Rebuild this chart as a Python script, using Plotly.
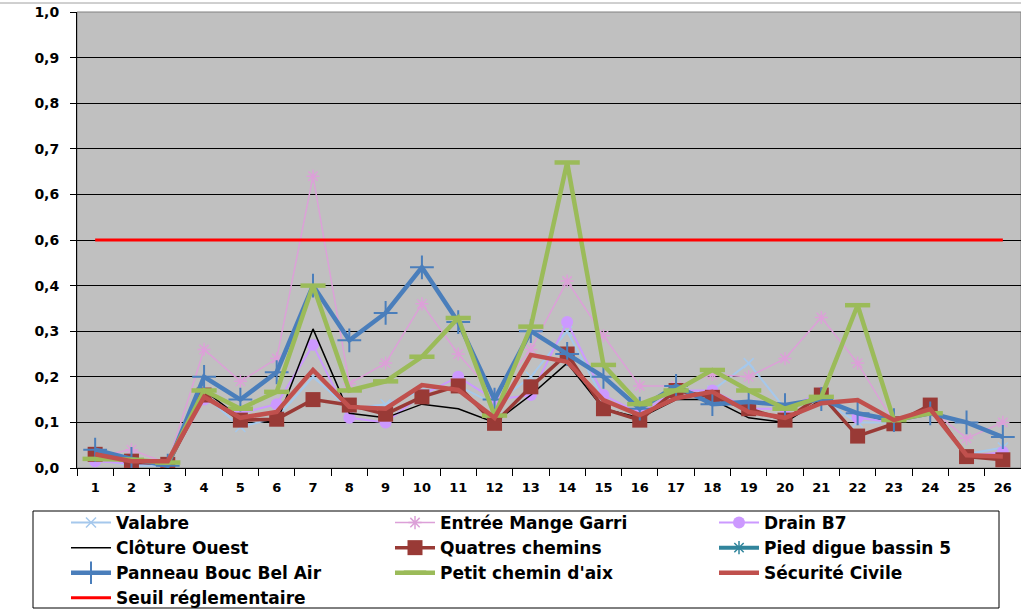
import plotly.graph_objects as go

# Points de mesure 1 à 26
categories = [str(i) for i in range(1, 27)]

valabre = [0.02, 0.005, 0.005, 0.16, 0.09, 0.11, 0.20, 0.13, 0.14, 0.17, 0.18, 0.14, 0.20,
           0.30, 0.15, 0.12, 0.16, 0.17, 0.23, 0.13, 0.15, 0.10, 0.10, 0.13, 0.03, 0.045]
entree_mange_garri = [0.025, 0.04, 0.01, 0.26, 0.19, 0.24, 0.64, 0.185, 0.23, 0.36, 0.25, 0.16, 0.26,
                      0.41, 0.29, 0.18, 0.18, 0.205, 0.20, 0.24, 0.33, 0.23, 0.10, 0.13, 0.065, 0.10]
drain_b7 = [0.015, 0.01, 0.01, 0.15, 0.12, 0.14, 0.27, 0.11, 0.10, 0.16, 0.20, 0.15, 0.16,
            0.32, 0.16, 0.12, 0.17, 0.17, 0.13, 0.13, 0.165, 0.11, 0.10, 0.13, 0.025, 0.035]
cloture_ouest = [0.03, 0.01, 0.01, 0.17, 0.11, 0.10, 0.305, 0.12, 0.11, 0.14, 0.13, 0.10, 0.16,
                 0.23, 0.13, 0.11, 0.15, 0.15, 0.11, 0.10, 0.15, 0.12, 0.10, 0.13, 0.03, 0.02]
quatres_chemins = [0.03, 0.015, 0.008, 0.16, 0.105, 0.107, 0.15, 0.138, 0.118, 0.156, 0.18, 0.098, 0.178,
                   0.25, 0.13, 0.105, 0.17, 0.155, 0.13, 0.105, 0.16, 0.07, 0.097, 0.138, 0.025, 0.018]
pied_digue_bassin_5 = [None] * 26
panneau_bouc_bel_air = [0.04, 0.02, 0.005, 0.20, 0.15, 0.21, 0.40, 0.28, 0.34, 0.44, 0.32, 0.15, 0.30,
                        0.25, 0.20, 0.13, 0.18, 0.14, 0.145, 0.138, 0.151, 0.12, 0.105, 0.12, 0.10, 0.068]
petit_chemin_aix = [0.02, 0.018, 0.012, 0.17, 0.13, 0.167, 0.40, 0.17, 0.19, 0.244, 0.329, 0.115, 0.31,
                    0.67, 0.226, 0.14, 0.17, 0.215, 0.17, 0.13, 0.156, 0.357, 0.105, 0.12, None, None]
securite_civile = [0.03, 0.015, 0.015, 0.156, 0.11, 0.123, 0.215, 0.134, 0.13, 0.182, 0.171, 0.11, 0.248,
                   0.233, 0.149, 0.116, 0.153, 0.167, 0.123, 0.11, 0.142, 0.149, 0.105, 0.129, 0.028, 0.025]
seuil_reglementaire = [0.5] * 26

y_tickvals = [0.0, 0.1, 0.2, 0.3, 0.4, 0.5, 0.6, 0.7, 0.8, 0.9, 1.0]
y_ticktext = ["0,0", "0,1", "0,2", "0,3", "0,4", "0,6", "0,6", "0,7", "0,8", "0,9", "1,0"]

FONT = "DejaVu Sans"

series = [
    ("Valabre", valabre, "#A5C8EC", 2, dict(symbol="x-thin-open", size=10, line=dict(width=1.5, color="#A5C8EC"))),
    ("Entrée Mange Garri", entree_mange_garri, "#DCA0D8", 1.5,
     dict(symbol="asterisk-open", size=11, line=dict(width=1.5, color="#DCA0D8"))),
    ("Drain B7", drain_b7, "#CC99FF", 2, dict(symbol="circle", size=12, color="#CC99FF")),
    ("Clôture Ouest", cloture_ouest, "#000000", 1.5, None),
    ("Quatres chemins", quatres_chemins, "#993A36", 3.5, dict(symbol="square", size=15, color="#993A36")),
    ("Pied digue bassin 5", pied_digue_bassin_5, "#31859C", 4,
     dict(symbol="asterisk-open", size=11, line=dict(width=1.5, color="#9FD3E3"))),
    ("Panneau Bouc Bel Air", panneau_bouc_bel_air, "#4A7EBB", 4.5,
     dict(symbol="cross-thin-open", size=17, line=dict(width=2, color="#4A7EBB"))),
    ("Petit chemin d'aix", petit_chemin_aix, "#9BBB59", 4.5,
     dict(symbol="line-ew-open", size=18, line=dict(width=4.5, color="#9BBB59"))),
    ("Sécurité Civile", securite_civile, "#C0504D", 4.5, None),
    ("Seuil réglementaire", seuil_reglementaire, "#FF0000", 3, None),
]

fig = go.Figure()
for name, values, color, width, marker in series:
    kwargs = dict(x=categories, y=values, name=name, line=dict(color=color, width=width))
    if marker is None:
        kwargs["mode"] = "lines"
    else:
        kwargs["mode"] = "lines+markers"
        kwargs["marker"] = marker
    fig.add_trace(go.Scatter(**kwargs))

# Plot area spans x 77..1021 px and y 12..468 px
L, T, W, H = 77, 12, 944, 456


def px_x(p):
    return (p - L) / W


def px_y(p):
    return (T + H - p) / H


shapes = [
    # plot-area border
    dict(type="rect", xref="paper", yref="paper", x0=0, x1=1, y0=0, y1=1,
         line=dict(color="#808080", width=1), layer="between"),
    # legend frame
    dict(type="rect", xref="paper", yref="paper", x0=px_x(33), x1=px_x(999), y0=px_y(608), y1=px_y(511),
         line=dict(color="#000000", width=1)),
    # outer chart frame (top edge)
    dict(type="line", xref="paper", yref="paper", x0=px_x(0), x1=1, y0=px_y(3), y1=px_y(3),
         line=dict(color="#A0A0A0", width=1)),
]

fig.update_layout(
    width=1021,
    height=616,
    margin=dict(l=L, r=1021 - L - W, t=T, b=616 - T - H, autoexpand=False),
    paper_bgcolor="#FFFFFF",
    plot_bgcolor="#C0C0C0",
    font=dict(family=FONT, color="#000000", weight="bold"),
    shapes=shapes,
    showlegend=True,
    legend=dict(
        orientation="h",
        x=px_x(66), xanchor="left",
        y=px_y(505), yanchor="top",
        bgcolor="rgba(0,0,0,0)",
        borderwidth=0,
        itemwidth=40,
        entrywidth=269,
        entrywidthmode="pixels",
        font=dict(family=FONT, size=17, color="#000000", weight="bold"),
        traceorder="normal",
    ),
    xaxis=dict(
        type="category",
        range=[-0.5, 25.5],
        showgrid=False,
        showline=True,
        linecolor="#000000",
        linewidth=1,
        ticks="outside",
        tickson="boundaries",
        ticklen=7,
        tickcolor="#000000",
        ticklabelstandoff=7,
        tickfont=dict(family=FONT, size=13, color="#000000", weight="bold"),
        zeroline=False,
    ),
    yaxis=dict(
        range=[0, 1],
        tickvals=y_tickvals,
        ticktext=y_ticktext,
        showgrid=True,
        gridcolor="#000000",
        gridwidth=1,
        showline=True,
        linecolor="#000000",
        linewidth=1,
        ticks="outside",
        ticklen=6,
        tickcolor="#000000",
        ticklabelstandoff=8,
        tickfont=dict(family=FONT, size=14, color="#000000", weight="bold"),
        zeroline=False,
    ),
)

fig.write_html("out.html")
